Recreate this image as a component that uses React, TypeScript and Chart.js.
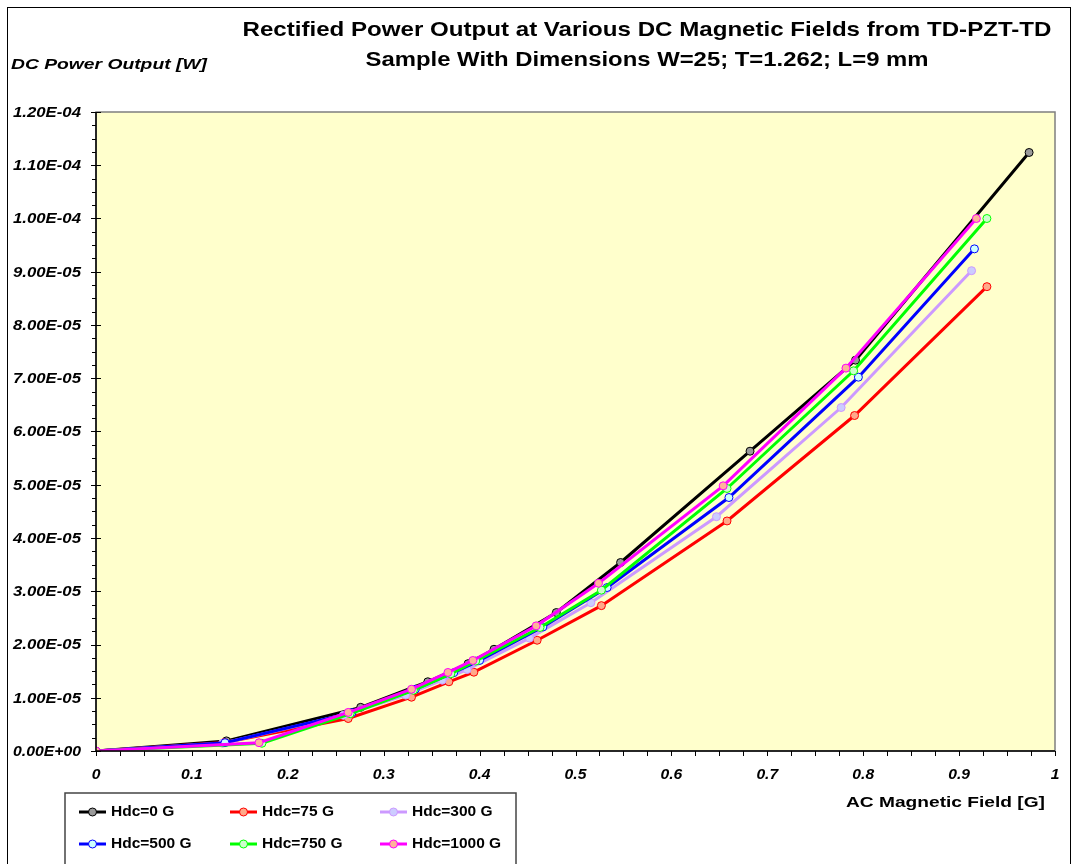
import React, { useEffect, useRef } from 'react';
import { Chart, registerables } from 'chart.js';

Chart.register(...registerables);

const FAMILY = '"Liberation Sans", Arial, sans-serif';

const titleLines = [
  'Rectified Power Output at Various DC Magnetic Fields from TD-PZT-TD',
  'Sample With Dimensions W=25; T=1.262; L=9 mm',
];
const yAxisTitle = 'DC Power Output [W]';
const xAxisTitle = 'AC Magnetic Field [G]';

const seriesLabels = ['Hdc=0 G', 'Hdc=75 G', 'Hdc=300 G', 'Hdc=500 G', 'Hdc=750 G', 'Hdc=1000 G'];

// AC magnetic field [G]
const xHdc0 = [0, 0.136, 0.276, 0.346, 0.388, 0.415, 0.48, 0.547, 0.682, 0.792, 0.973];
const xHdc75 = [0, 0.134, 0.263, 0.329, 0.368, 0.394, 0.46, 0.527, 0.658, 0.791, 0.929];
const xHdc300 = [0, 0.132, 0.258, 0.323, 0.361, 0.387, 0.452, 0.516, 0.647, 0.777, 0.913];
const xHdc500 = [0, 0.1345, 0.267, 0.333, 0.373, 0.4, 0.466, 0.533, 0.66, 0.795, 0.916];
const xHdc750 = [0, 0.173, 0.265, 0.331, 0.37, 0.396, 0.463, 0.527, 0.658, 0.79, 0.929];
const xHdc1000 = [0, 0.17, 0.263, 0.329, 0.367, 0.393, 0.459, 0.524, 0.654, 0.782, 0.918];

// DC power output [W]
const yHdc0 = [0, 0.19e-5, 0.82e-5, 1.3e-5, 1.64e-5, 1.91e-5, 2.6e-5, 3.54e-5, 5.63e-5, 7.34e-5, 11.24e-5];
const yHdc75 = [0, 0.16e-5, 0.61e-5, 1.01e-5, 1.3e-5, 1.48e-5, 2.08e-5, 2.73e-5, 4.32e-5, 6.3e-5, 8.72e-5];
const yHdc300 = [0, 0.145e-5, 0.67e-5, 1.05e-5, 1.33e-5, 1.53e-5, 2.12e-5, 2.785e-5, 4.4e-5, 6.45e-5, 9.02e-5];
const yHdc500 = [0, 0.156e-5, 0.72e-5, 1.16e-5, 1.47e-5, 1.7e-5, 2.33e-5, 3.07e-5, 4.76e-5, 7.02e-5, 9.43e-5];
const yHdc750 = [0, 0.145e-5, 0.7e-5, 1.14e-5, 1.45e-5, 1.69e-5, 2.32e-5, 3.02e-5, 4.93e-5, 7.14e-5, 10.0e-5];
const yHdc1000 = [0, 0.156e-5, 0.725e-5, 1.16e-5, 1.475e-5, 1.7e-5, 2.35e-5, 3.15e-5, 4.98e-5, 7.19e-5, 10.0e-5];

const xSeries = [xHdc0, xHdc75, xHdc300, xHdc500, xHdc750, xHdc1000];
const ySeries = [yHdc0, yHdc75, yHdc300, yHdc500, yHdc750, yHdc1000];

const lineColors = ['#000000', '#FF0000', '#CC99FF', '#0000FF', '#00FF00', '#FF00FF'];
const markerFills = ['#9A9A9A', '#FFA98A', '#CCCCFF', '#CCFFFF', '#CCFFCC', '#FFB39A'];

const xMin = 0, xMax = 1, xStep = 0.1, xMinorStep = 0.025;
const yMin = 0, yMax = 1.2e-4, yStep = 1e-5, yMinorStep = 2.5e-6;

function sci(v: number): string {
  if (Math.abs(v) < 1e-15) return '0.00E+00';
  let e = Math.floor(Math.log10(Math.abs(v)) + 1e-9);
  let m = v / Math.pow(10, e);
  if (Math.abs(m) >= 9.995) { m /= 10; e += 1; }
  return m.toFixed(2) + 'E' + (e < 0 ? '-' : '+') + String(Math.abs(e)).padStart(2, '0');
}

function drawText(ctx: CanvasRenderingContext2D, text: string, x: number, y: number, align: string, size: number, weight: string, style: string, targetW?: number) {
  ctx.save();
  ctx.font = `${style} ${weight} ${size}px ${FAMILY}`;
  const w = ctx.measureText(text).width;
  const sx = targetW ? targetW / w : 1;
  const left = align === 'center' ? x - (w * sx) / 2 : align === 'right' ? x - w * sx : x;
  ctx.textBaseline = 'middle';
  ctx.textAlign = 'left';
  ctx.fillStyle = '#000';
  ctx.translate(left, y);
  ctx.scale(sx, 1);
  ctx.fillText(text, 0, 0);
  ctx.restore();
}

const decorPlugin = {
  id: 'decor',
  beforeDraw(chart: any) {
    const { ctx, chartArea: a } = chart;
    ctx.save();
    ctx.fillStyle = '#fff';
    ctx.fillRect(0, 0, chart.width, chart.height);
    ctx.strokeStyle = '#000';
    ctx.lineWidth = 1;
    ctx.strokeRect(7.5, 7.5, chart.width - 10, chart.height + 20);
    ctx.fillStyle = '#FFFFCC';
    ctx.fillRect(a.left, a.top, a.right - a.left, a.bottom - a.top);
    ctx.strokeStyle = '#7f7f7f';
    ctx.lineWidth = 1.5;
    ctx.strokeRect(a.left, a.top, a.right - a.left, a.bottom - a.top);
    ctx.restore();
  },
  afterDraw(chart: any) {
    const { ctx, chartArea: a } = chart;
    const xs = chart.scales.x;
    const ys = chart.scales.y;
    ctx.save();
    ctx.strokeStyle = '#000';
    ctx.lineWidth = 1.5;
    ctx.beginPath();
    ctx.moveTo(a.left, a.top);
    ctx.lineTo(a.left, a.bottom);
    ctx.lineTo(a.right, a.bottom);
    ctx.stroke();
    ctx.lineWidth = 1;
    const nx = Math.round((xMax - xMin) / xMinorStep);
    for (let i = 0; i <= nx; i++) {
      const px = Math.round(xs.getPixelForValue(xMin + i * xMinorStep)) + 0.5;
      ctx.beginPath();
      ctx.moveTo(px, a.bottom);
      ctx.lineTo(px, a.bottom + 5);
      ctx.stroke();
    }
    const ny = Math.round((yMax - yMin) / yMinorStep);
    const per = Math.round(yStep / yMinorStep);
    for (let i = 0; i <= ny; i++) {
      const py = Math.round(ys.getPixelForValue(yMin + i * yMinorStep)) + 0.5;
      ctx.beginPath();
      if (i % per === 0) {
        ctx.moveTo(a.left - 5, py);
        ctx.lineTo(a.left + 5, py);
      } else {
        ctx.moveTo(a.left - 4, py);
        ctx.lineTo(a.left, py);
      }
      ctx.stroke();
    }
    ctx.restore();

    // tick labels from the scales' own ticks
    ys.ticks.forEach((t: any) => {
      const py = ys.getPixelForValue(t.value);
      drawText(ctx, sci(t.value), 81, py + 1, 'right', 14, 'bold', 'italic', 68);
    });
    xs.ticks.forEach((t: any) => {
      const px = xs.getPixelForValue(t.value);
      const n = Number(t.value);
      const lab = Math.abs(n) < 1e-9 ? '0' : Math.abs(n - 1) < 1e-9 ? '1' : n.toFixed(1);
      ctx.save();
      ctx.font = `italic bold 14px ${FAMILY}`;
      const w = ctx.measureText(lab).width;
      ctx.restore();
      drawText(ctx, lab, px, 775, 'center', 14, 'bold', 'italic', w * 1.12);
    });

    drawText(ctx, titleLines[0], 647, 30, 'center', 20.5, 'bold', 'normal', 809);
    drawText(ctx, titleLines[1], 647, 60, 'center', 20.5, 'bold', 'normal', 563);
    drawText(ctx, yAxisTitle, 11, 65, 'left', 15, 'bold', 'italic', 196);
    drawText(ctx, xAxisTitle, 846, 803, 'left', 15.5, 'bold', 'normal', 199);

    ctx.save();
    ctx.strokeStyle = '#444';
    ctx.lineWidth = 1.5;
    ctx.strokeRect(65, 793, 451, 100);
    ctx.restore();
    const colLine = [79, 230, 380];
    const colText = [111, 262, 412];
    const rowY = [812, 844];
    seriesLabels.forEach((lab, i) => {
      const r = Math.floor(i / 3);
      const c = i % 3;
      const y = rowY[r];
      ctx.save();
      ctx.strokeStyle = lineColors[i];
      ctx.lineWidth = 3;
      ctx.beginPath();
      ctx.moveTo(colLine[c], y);
      ctx.lineTo(colLine[c] + 27, y);
      ctx.stroke();
      ctx.beginPath();
      ctx.arc(colLine[c] + 13.5, y, 4, 0, Math.PI * 2);
      ctx.fillStyle = markerFills[i];
      ctx.fill();
      ctx.lineWidth = 1;
      ctx.stroke();
      ctx.restore();
      drawText(ctx, lab, colText[c], y, 'left', 15.5, 'bold', 'normal');
    });
  },
};

export default function App() {
  const ref = useRef<HTMLCanvasElement | null>(null);
  useEffect(() => {
    document.body.style.margin = '0';
    const canvas = ref.current!;
    const datasets = seriesLabels.map((label, i) => ({
      label,
      data: xSeries[i].map((x, j) => ({ x, y: ySeries[i][j] })),
      borderColor: lineColors[i],
      backgroundColor: markerFills[i],
      pointBackgroundColor: markerFills[i],
      pointBorderColor: lineColors[i],
      pointBorderWidth: 1,
      pointRadius: 4,
      borderWidth: 3,
      tension: 0,
      showLine: true,
      fill: false,
      order: seriesLabels.length - i,
    }));
    const chart = new Chart(canvas, {
      type: 'scatter',
      data: { datasets },
      options: {
        animation: false,
        responsive: false,
        devicePixelRatio: 1,
        layout: { padding: { left: 0, top: 112, right: 18, bottom: 0 } },
        plugins: { legend: { display: false }, tooltip: { enabled: false }, title: { display: false } },
        scales: {
          x: {
            type: 'linear',
            min: xMin,
            max: xMax,
            grid: { display: false, drawTicks: false },
            border: { display: false },
            ticks: { display: false, stepSize: xStep, autoSkip: false, maxRotation: 0 },
            afterFit: (s: any) => { s.height = 113; },
          },
          y: {
            type: 'linear',
            min: yMin,
            max: yMax,
            grid: { display: false, drawTicks: false },
            border: { display: false },
            ticks: { display: false, stepSize: yStep, autoSkip: false },
            afterFit: (s: any) => { s.width = 96; },
          },
        },
      },
      plugins: [decorPlugin],
    } as any);
    return () => chart.destroy();
  }, []);
  return (
    <div style={{ position: 'absolute', left: 0, top: 0, width: 1073, height: 864 }}>
      <canvas ref={ref} width={1073} height={864} style={{ width: 1073, height: 864, display: 'block' }} />
    </div>
  );
}
